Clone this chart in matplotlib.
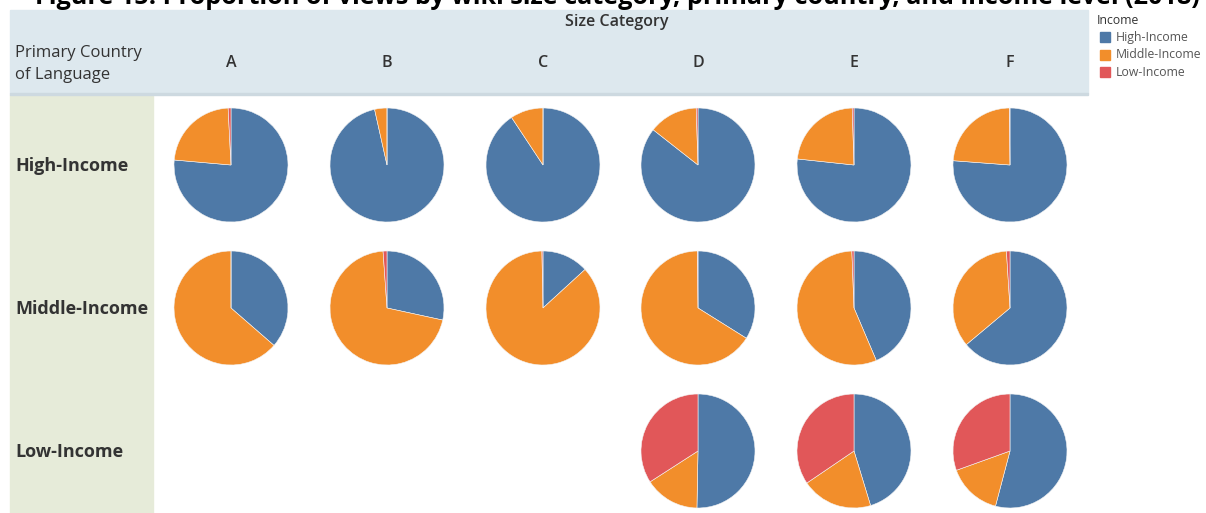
import matplotlib
matplotlib.use('Agg')
import matplotlib.pyplot as plt
from matplotlib.patches import Rectangle

plt.rcParams['font.family'] = ['Open Sans', 'DejaVu Sans']

# Share of views by wiki size category; each triple is (High, Middle, Low) income views
size_categories = ['A', 'B', 'C', 'D', 'E', 'F']
country_groups = ['High-Income', 'Middle-Income', 'Low-Income']
income_levels = ['High-Income', 'Middle-Income', 'Low-Income']
income_colors = ['#4e79a7', '#f28e2b', '#e15759']

high_income_country = [
    [0.764, 0.228, 0.008],
    [0.965, 0.035, 0.0],
    [0.907, 0.093, 0.0],
    [0.856, 0.139, 0.005],
    [0.767, 0.228, 0.005],
    [0.762, 0.236, 0.002],
]
middle_income_country = [
    [0.364, 0.636, 0.0],
    [0.284, 0.705, 0.011],
    [0.132, 0.865, 0.003],
    [0.339, 0.659, 0.002],
    [0.436, 0.558, 0.006],
    [0.639, 0.351, 0.010],
]
low_income_country = [
    None,
    None,
    None,
    [0.503, 0.156, 0.341],
    [0.453, 0.202, 0.345],
    [0.541, 0.154, 0.305],
]
shares_by_group = [high_income_country, middle_income_country, low_income_country]

W, H = 1206, 513
fig = plt.figure(figsize=(W / 100, H / 100), dpi=100)
bg = fig.add_axes([0, 0, 1, 1])
bg.set_xlim(0, W)
bg.set_ylim(H, 0)
bg.axis('off')

# header band and row header band
bg.add_patch(Rectangle((10, 10), 1078, 83, color='#dde8ee', zorder=0))
bg.add_patch(Rectangle((10, 93), 1078, 1.5, color='#cdd9e0', zorder=1))
bg.add_patch(Rectangle((10, 95), 143, H - 95, color='#e6ebd9', zorder=0))

bg.text(617, -3, 'Figure 15: Proportion of views by wiki size category, primary country, and income level (2018)',
        ha='center', va='center', fontsize=18.2, fontweight='bold', color='black')
bg.text(617, 22, 'Size Category', ha='center', va='center', fontsize=11.5,
        fontweight='semibold', color='#333333')
bg.text(15, 53, 'Primary Country', ha='left', va='center', fontsize=12, color='#333333')
bg.text(15, 75, 'of Language', ha='left', va='center', fontsize=12, color='#333333')

col_x = [231, 387, 543, 698, 854, 1010]
row_y = [165, 308, 451]
radius = 57

for x, letter in zip(col_x, size_categories):
    bg.text(x, 63, letter, ha='center', va='center', fontsize=11.5,
            fontweight='semibold', color='#333333')

for y, label in zip(row_y, country_groups):
    bg.text(15, y + 1, label, ha='left', va='center', fontsize=13,
            fontweight='bold', color='#333333')

# one small pie per cell, starting at 12 o'clock and running clockwise
for r, shares in enumerate(shares_by_group):
    for c, vals in enumerate(shares):
        if vals is None:
            continue
        cx, cy = col_x[c], row_y[r]
        ax = fig.add_axes([(cx - radius) / W, 1 - (cy + radius) / H,
                           2 * radius / W, 2 * radius / H])
        ax.pie(vals, colors=income_colors, startangle=90, counterclock=False,
               radius=1.0, wedgeprops=dict(linewidth=0.4, edgecolor='#f4f4f4'))
        ax.set_xlim(-1.0, 1.0)
        ax.set_ylim(-1.0, 1.0)
        ax.axis('off')

# legend
bg.text(1097, 20, 'Income', ha='left', va='center', fontsize=8.8, color='#333333')
for i, (name, color) in enumerate(zip(income_levels, income_colors)):
    y = 37 + i * 17.5
    bg.add_patch(Rectangle((1100, y - 5), 10, 10, color=color))
    bg.text(1116, y, name, ha='left', va='center', fontsize=8.8, color='#555555')

fig.savefig('out.png', dpi=100)
